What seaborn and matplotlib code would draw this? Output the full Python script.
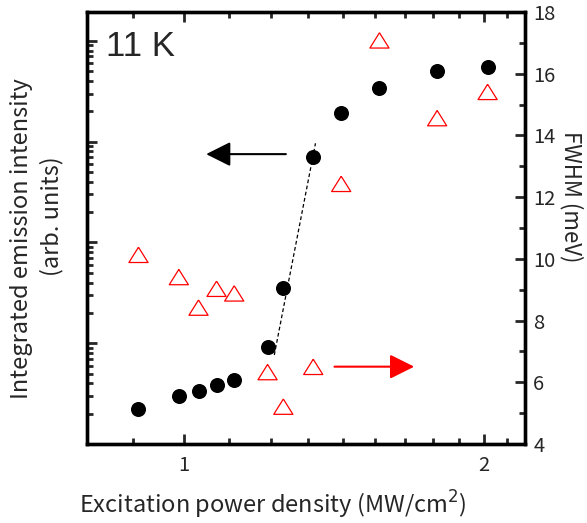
import matplotlib
matplotlib.use('Agg')
import matplotlib.pyplot as plt
import numpy as np
import seaborn as sns
from matplotlib.ticker import FixedLocator, NullFormatter, LogLocator, MultipleLocator

sns.set_theme(style="ticks")
plt.rcParams['font.family'] = ['Noto Sans CJK JP', 'DejaVu Sans']

# excitation power density (MW/cm^2)
power = [0.901, 0.989, 1.035, 1.079, 1.124, 1.214, 1.259, 1.349, 1.439, 1.572, 1.796, 2.018]
# integrated emission intensity (arb. units)
intensity = [222, 299, 338, 385, 431, 923, 3550, 70800, 193600, 338000, 501500, 553500]
# FWHM (meV)
fwhm = [10.13, 9.41, 8.42, 9.03, 8.88, 6.33, 5.21, 6.50, 12.43, 17.08, 14.56, 15.41]
# dashed guide through the threshold region
fit_x = [1.233, 1.356]
fit_y = [764, 96200]

x_major = [1, 2]
x_minor = [8 / 9] + [1 + k / 9 for k in range(1, 9)] + [2 + 1 / 9]

fig = plt.figure(figsize=(5.87, 5.23), dpi=100)
ax = fig.add_axes([87 / 587, 79 / 523, 438 / 587, 432 / 523])
ax2 = ax.twinx()

sns.lineplot(x=fit_x, y=fit_y, ax=ax, color='black', linewidth=0.9,
             linestyle=(0, (3, 2)), zorder=1)
sns.scatterplot(x=power, y=intensity, ax=ax, color='black', s=117,
                linewidth=0, zorder=3)

tri = [(0, 0.8), (-1, -0.8), (1, -0.8), (0, 0.8)]
sns.scatterplot(x=power, y=fwhm, ax=ax2, marker=tri, s=190,
                facecolor='none', edgecolor='red', linewidth=0.9, zorder=3)

ax.set_xscale('log')
ax.set_yscale('log')
ax.set_xlim(0.8, 2.2)
ax.set_ylim(100, 100 * 10 ** (432 / 100.8))
ax.set_xticks(x_major, labels=['1', '2'])
ax.xaxis.set_minor_locator(FixedLocator(x_minor))
ax.xaxis.set_minor_formatter(NullFormatter())
ax.yaxis.set_major_locator(LogLocator(base=10))
ax.yaxis.set_minor_locator(LogLocator(base=10, subs=np.arange(2, 10)))
ax.yaxis.set_minor_formatter(NullFormatter())
ax.tick_params(which='both', direction='in', top=True, right=False,
               labelleft=False, width=2, labelsize=14.5, pad=8)
ax.tick_params(which='major', length=7)
ax.tick_params(which='minor', length=4)

ax2.set_ylim(4, 18)
ax2.yaxis.set_major_locator(MultipleLocator(2))
ax2.yaxis.set_minor_locator(MultipleLocator(1))
ax2.tick_params(which='both', direction='in', width=2, labelsize=14.5, pad=6)
ax2.tick_params(which='major', length=7)
ax2.tick_params(which='minor', length=4)

for a in (ax, ax2):
    for sp in a.spines.values():
        sp.set_linewidth(2.4)
        sp.set_color('black')
    a.set_xlabel('')
    a.set_ylabel('')
    a.grid(False)

ax.text(0.043, 0.92, '11 K', transform=ax.transAxes, fontsize=25,
        family='Liberation Sans', ha='left', va='center')

ax.annotate('', xy=(0.272, 0.671), xytext=(0.454, 0.671), xycoords='axes fraction',
            arrowprops=dict(arrowstyle='-|>,head_length=1.0,head_width=0.5',
                            color='black', lw=1.5, mutation_scale=15,
                            shrinkA=0, shrinkB=0))
ax.annotate('', xy=(0.747, 0.179), xytext=(0.565, 0.179), xycoords='axes fraction',
            arrowprops=dict(arrowstyle='-|>,head_length=1.0,head_width=0.5',
                            color='red', lw=1.5, mutation_scale=15,
                            shrinkA=0, shrinkB=0))

fig.text(273 / 587, 1 - 505 / 523, 'Excitation power density (MW/cm$^2$)',
         ha='center', va='center', fontsize=17)
fig.text(22 / 587, 1 - 239 / 523, 'Integrated emission intensity',
         rotation=90, ha='center', va='center', fontsize=17)
fig.text(52 / 587, 1 - 216 / 523, '(arb. units)',
         rotation=90, ha='center', va='center', fontsize=17)
fig.text(571 / 587, 1 - 197 / 523, 'FWHM (meV)',
         rotation=270, ha='center', va='center', fontsize=16)

fig.savefig('out.png', dpi=100)
